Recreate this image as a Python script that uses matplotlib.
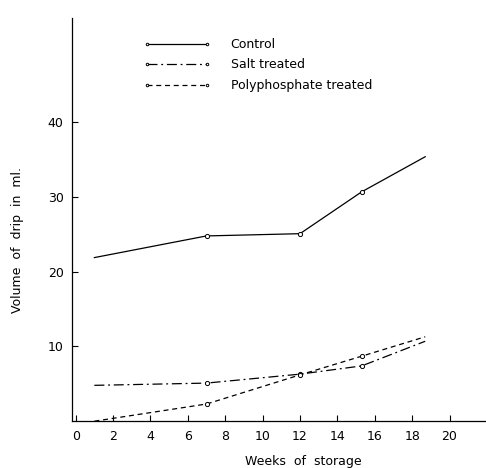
import matplotlib
matplotlib.use("Agg")
import matplotlib.pyplot as plt

# values
weeks = [1, 7, 12, 15.3, 18.7]
control = [21.9, 24.8, 25.1, 30.7, 35.4]
salt = [4.8, 5.1, 6.3, 7.4, 10.7]
poly = [0.0, 2.3, 6.2, 8.7, 11.3]

x_ticks = [0, 2, 4, 6, 8, 10, 12, 14, 16, 18, 20]
y_ticks = [10, 20, 30, 40]

plt.rcParams['font.family'] = ['DejaVu Sans']

fig = plt.figure(figsize=(4.86, 4.68), dpi=100)
ax = fig.add_axes([0.148, 0.10, 0.850, 0.862])

common = dict(color='black', lw=0.9, marker='o', ms=3, mfc='white', mew=0.7, markevery=[1, 2, 3])
ax.plot(weeks, control, ls='-', label='Control', **common)
ax.plot(weeks, salt, ls=(0, (8, 3, 1.5, 3)), label='Salt treated', **common)
ax.plot(weeks, poly, ls=(0, (4, 3)), label='Polyphosphate treated', **common)

ax.set_xlim(-0.2, 21.9)
ax.set_ylim(0, 54)
ax.set_xticks(x_ticks)
ax.set_yticks(y_ticks)
ax.tick_params(direction='in', length=4, width=0.8, labelsize=9, pad=6)
ax.spines['top'].set_visible(False)
ax.spines['right'].set_visible(False)
for s in ['left', 'bottom']:
    ax.spines[s].set_linewidth(0.9)

ax.set_xlabel('Weeks  of  storage', fontsize=9)
ax.xaxis.set_label_coords(0.56, -0.085)
ax.set_ylabel('Volume  of  drip  in  ml.', fontsize=9)
ax.yaxis.set_label_coords(-0.115, 0.45)

leg = ax.legend(loc='upper left', bbox_to_anchor=(0.145, 0.978), frameon=False,
                fontsize=9, handlelength=5.4, numpoints=2, markerscale=0.6,
                labelspacing=0.6, handletextpad=1.6)

fig.savefig('out.png', dpi=100)
